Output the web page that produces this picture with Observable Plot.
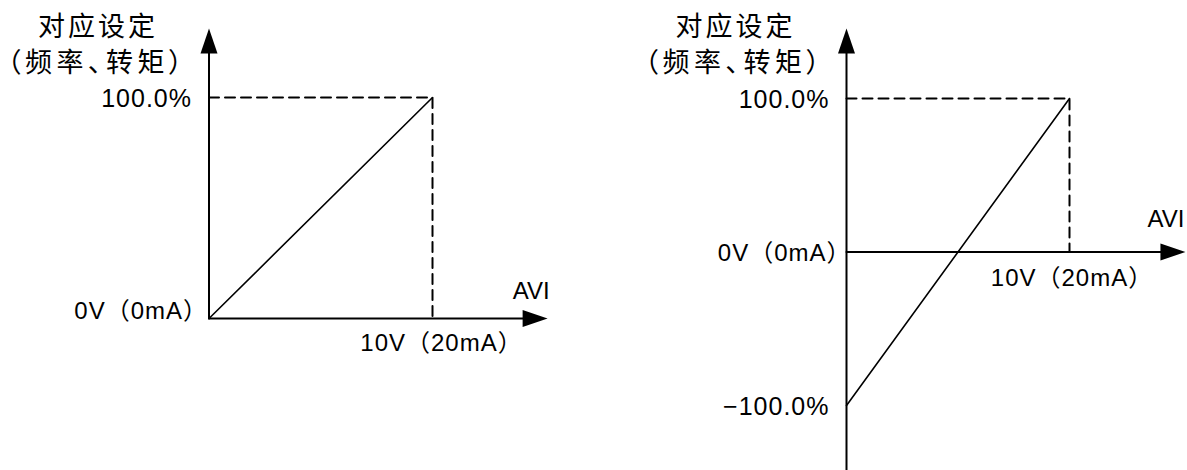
<!DOCTYPE html>
<html>
<head>
<meta charset="utf-8">
<script src="https://cdn.jsdelivr.net/npm/d3@7"></script>
<script src="https://cdn.jsdelivr.net/npm/@observablehq/plot@0.6"></script>
<style>
  html, body { margin: 0; padding: 0; background: #fff; }
  #wrap { display: flex; width: 1187px; height: 470px; overflow: hidden; }
  svg { display: block; }
</style>
</head>
<body>
<div id="wrap"></div>
<script>
// ---- data (input voltage in V, setting in %) ----
const inputV = [0, 10];
const leftSetting = [0, 100];
const rightSetting = [-100, 100];
const titleLines = ["对应设定", "（频率、转矩）"];
const axisName = "AVI";
const xTickLabels = ["0V（0mA）", "10V（20mA）"];
const leftYTickValues = [100];
const leftYTickLabels = ["100.0%"];
const rightYTickValues = [100, -100];
const rightYTickLabels = ["100.0%", "−100.0%"];
// axis extents (data units) where the arrow heads sit
const leftAxisTip = {x: 15.15, y: 131.2};
const rightAxisTip = {x: 15.2, y: 145.6, yBottom: -160};

const latin = "'Liberation Sans', 'Noto Sans CJK SC', sans-serif";
const cjk = "'Noto Sans CJK SC', sans-serif";

const arrowHead = {
  draw(ctx) {
    ctx.moveTo(0, 0);
    ctx.lineTo(8.5, 25);
    ctx.lineTo(-8.5, 25);
    ctx.closePath();
  }
};

function diagram({width, xRange, yDomain, yRange, setting, tip, yTickValues, yTickLabels, zeroLabelDx, zeroLabelDy, tenLabelDx, tenLabelDy, aviDx, aviDy}) {
  const yBottom = tip.yBottom ?? 0;
  const linePts = inputV.map((v, i) => ({x: v, y: setting[i]}));
  const dashPts = [
    {x: inputV[0], y: setting[1]},
    {x: inputV[1], y: setting[1]},
    {x: inputV[1], y: 0}
  ];
  const yAxisPts = [{x: 0, y: yBottom}, {x: 0, y: tip.y - 8}];
  const xAxisPts = [{x: 0, y: 0}, {x: tip.x - 0.4, y: 0}];
  const svg = Plot.plot({
    width, height: 470,
    margin: 0,
    x: {domain: [0, 10], range: xRange, axis: null},
    y: {domain: yDomain, range: yRange, axis: null},
    style: {background: "white", overflow: "visible"},
    marks: [
      Plot.line(dashPts, {x: "x", y: "y", stroke: "black", strokeWidth: 2, strokeDasharray: "10,6"}),
      Plot.line(yAxisPts, {x: "x", y: "y", stroke: "black", strokeWidth: 2}),
      Plot.line(xAxisPts, {x: "x", y: "y", stroke: "black", strokeWidth: 2}),
      Plot.line(linePts, {x: "x", y: "y", stroke: "black", strokeWidth: 1.6}),
      Plot.dot([{x: 0, y: tip.y}], {x: "x", y: "y", symbol: arrowHead, fill: "black", stroke: "none", r: 5}),
      Plot.dot([{x: tip.x, y: 0}], {x: "x", y: "y", symbol: arrowHead, fill: "black", stroke: "none", r: 5, rotate: 90}),
      // title
      Plot.text([titleLines[0]], {x: () => 0, y: () => tip.y, text: d => d, fontFamily: cjk, fontSize: 27, fill: "black", textAnchor: "middle", lineAnchor: "middle", dx: -111, dy: -1}),
      Plot.text([titleLines[1]], {x: () => 0, y: () => tip.y, text: d => d, fontFamily: cjk, fontSize: 27, fill: "black", textAnchor: "middle", lineAnchor: "middle", dx: -112, dy: 35}),
      // y tick labels
      Plot.text(yTickValues, {x: () => 0, y: d => d, text: (d, i) => yTickLabels[i], fontFamily: latin, fontSize: 25, fill: "black", textAnchor: "end", lineAnchor: "middle", dx: -17, dy: 1}),
      // x labels
      Plot.text([xTickLabels[0]], {x: () => inputV[0], y: () => 0, text: d => d, fontFamily: latin, fontSize: 24, fill: "black", textAnchor: "end", lineAnchor: "middle", dx: zeroLabelDx, dy: zeroLabelDy}),
      Plot.text([xTickLabels[1]], {x: () => inputV[1], y: () => 0, text: d => d, fontFamily: latin, fontSize: 24, fill: "black", textAnchor: "middle", lineAnchor: "middle", dx: tenLabelDx, dy: tenLabelDy}),
      Plot.text([axisName], {x: () => tip.x, y: () => 0, text: d => d, fontFamily: latin, fontSize: 24, fill: "black", textAnchor: "end", lineAnchor: "middle", dx: aviDx, dy: aviDy})
    ]
  });
  const spacing = new Map([
    [titleLines[0], 3], [titleLines[1], 4.5],
    [xTickLabels[0], 1], [xTickLabels[1], 1],
    [axisName, 0]
  ]);
  d3.select(svg).selectAll("text")
    .attr("letter-spacing", function() {
      const t = this.textContent;
      return spacing.has(t) ? spacing.get(t) : 1;
    })
    .attr("style", function() {
      return this.textContent === titleLines[1] ? "font-feature-settings: 'palt'" : null;
    });
  return svg;
}

const wrap = document.getElementById("wrap");
wrap.appendChild(diagram({
  width: 600, xRange: [208.5, 432], yDomain: [0, 100], yRange: [318, 97],
  setting: leftSetting, tip: leftAxisTip,
  yTickValues: leftYTickValues, yTickLabels: leftYTickLabels,
  zeroLabelDx: -1, zeroLabelDy: -7.5, tenLabelDx: 9, tenLabelDy: 25, aviDx: 2, aviDy: -27.5
}));
wrap.appendChild(diagram({
  width: 587, xRange: [246, 469], yDomain: [-100, 100], yRange: [405, 98],
  setting: rightSetting, tip: rightAxisTip,
  yTickValues: rightYTickValues, yTickLabels: rightYTickLabels,
  zeroLabelDx: 5, zeroLabelDy: 1, tenLabelDx: 2.5, tenLabelDy: 26, aviDx: -1, aviDy: -33
}));
</script>
</body>
</html>
